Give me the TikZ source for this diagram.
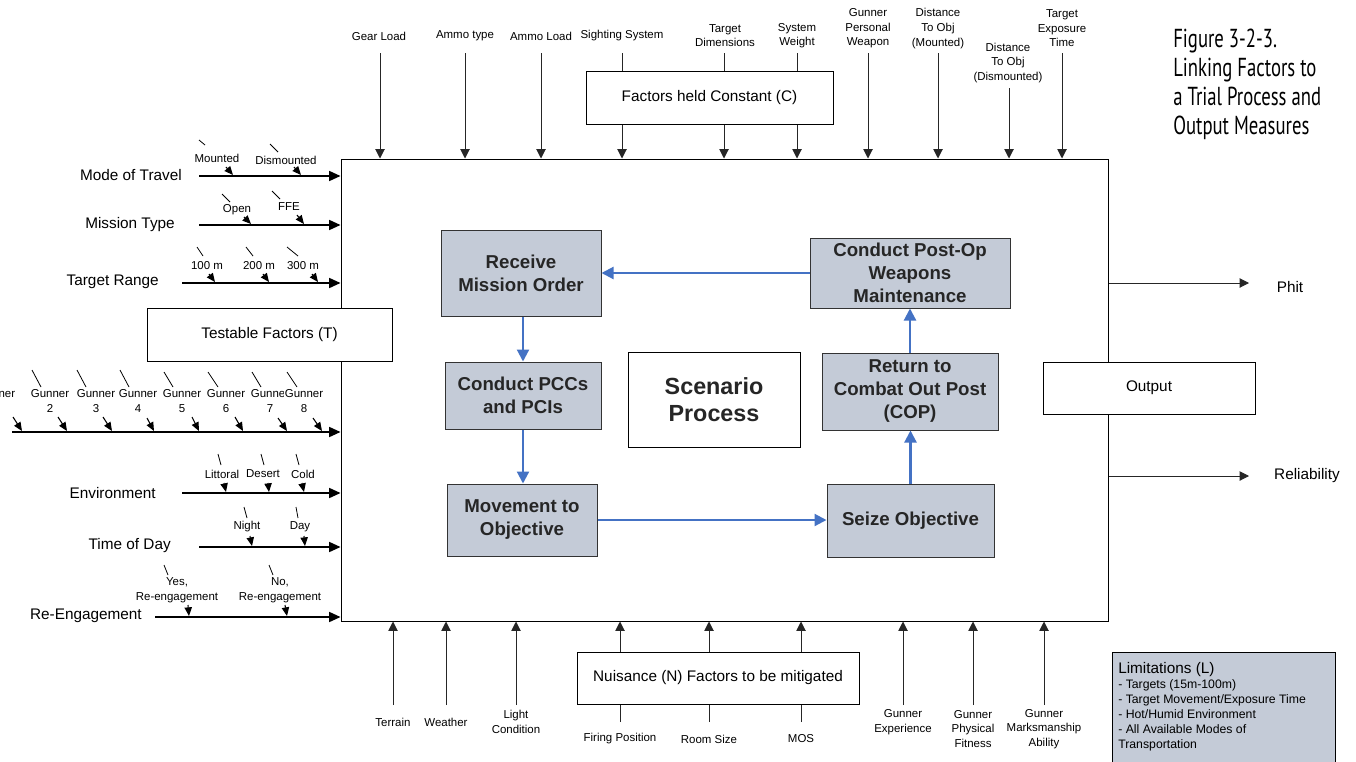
\documentclass[tikz,border=0pt]{standalone}
\usepackage{fontspec}
\setmainfont{Liberation Sans}
\newfontfamily\titlefont[FakeStretch=0.72]{PT Sans}
\usetikzlibrary{arrows.meta}
\definecolor{procfill}{RGB}{196,203,215}
\definecolor{flowblue}{RGB}{68,114,196}

% one level of a testable factor: label, leader tick and a short arrow onto the factor line
\newcommand\subfac[7]{%
  \node[sm] (#1) at (#2) {#3};
  \draw[tick] (#4) -- (#5);
  \coordinate (#1-a) at (#6);
  \coordinate (#1-b) at (#7);
  \draw[sarr] (#1-a) -- (#1-b);}

\begin{document}
\begin{tikzpicture}[x=0.75pt,y=-0.75pt,
  every node/.style={inner sep=0pt},
  box/.style 2 args={draw, line width=0.75pt, minimum width=#1*0.75pt, minimum height=#2*0.75pt, inner sep=0pt},
  lbl/.style={font=\fontsize{11.5}{13.5}\selectfont},
  sm/.style={font=\fontsize{8.6}{10.9}\selectfont, align=center, inner sep=0.6pt},
  proc/.style={fill=procfill, draw=black!80, text=black!85, font=\fontsize{14}{17.25}\selectfont\bfseries, align=center},
  factor/.style={line width=1.1pt, -{Triangle[length=8.5pt,width=7.5pt]}},
  feed/.style={line width=0.75pt, draw=black!85, -{Triangle[length=7pt,width=7pt]}},
  plain/.style={line width=0.75pt, draw=black!85},
  sarr/.style={line width=0.8pt, -{Triangle[length=6.5pt,width=5.5pt]}},
  tick/.style={line width=0.6pt},
  flow/.style={draw=flowblue, line width=1.6pt, -{Triangle[length=9pt,width=9pt]}},
]
\useasboundingbox (0,0) rectangle (1356,761);

% ---------- main process frame ----------
\node[box={767}{462}, fill=white] (main) at (724.5,390) {};

% ---------- testable factors (left) ----------
\node[lbl, anchor=east] (mode) at (182,175) {Mode of Travel};
\coordinate (mode-s) at (199,176);
\draw[factor] (mode-s) -- (mode-s -| main.west);
\subfac{mounted}{217,158}{Mounted}{199,140}{205,145}{226,167}{233,175}
\subfac{dismounted}{286,160}{Dismounted}{270,144}{278,152}{294,167}{301,175}

\node[lbl, anchor=east] (mission) at (175,225) {Mission Type};
\coordinate (mission-s) at (199,225);
\draw[factor] (mission-s) -- (mission-s -| main.west);
\subfac{open}{237,210}{Open}{222,194}{230,202}{244,217}{251,224}
\subfac{ffe}{289,207}{FFE}{272,191}{280,199}{297,215}{304,224}

\node[lbl, anchor=east] (range) at (159,282) {Target Range};
\coordinate (range-s) at (182,283);
\draw[factor] (range-s) -- (range-s -| main.west);
\subfac{r100}{207,266}{100 m}{197,247}{203,256}{209,274}{215,282}
\subfac{r200}{259,266}{200 m}{246,247}{253,256}{263,274}{269,282}
\subfac{r300}{303,266}{300 m}{287,247}{298,256}{312,274}{318,282}

\coordinate (gun-s) at (12,432);
\draw[factor] (gun-s) -- (gun-s -| main.west);
\tikzset{sm/.append style={fill=white}}
\subfac{g1}{-4,401}{Gunner\\1}{-22,371}{-13,387}{13,417}{22,431}
\subfac{g2}{50,401}{Gunner\\2}{32,370}{41,387}{58,417}{67,431}
\subfac{g3}{96,401}{Gunner\\3}{77,370}{86,387}{103,417}{112,431}
\subfac{g4}{138,401}{Gunner\\4}{120,370}{129,387}{147,418}{154,431}
\subfac{g5}{182,401}{Gunner\\5}{164,372}{173,387}{192,417}{199,431}
\subfac{g6}{226,401}{Gunner\\6}{208,372}{218,387}{235,417}{243,431}
\subfac{g7}{270,401}{Gunner\\7}{252,372}{261,387}{278,418}{287,431}
\subfac{g8}{304,401}{Gunner\\8}{287,372}{297,387}{313,418}{322,431}
\tikzset{sm/.append style={fill=none}}

\node[lbl, anchor=east] (env) at (156,493) {Environment};
\coordinate (env-s) at (182,493);
\draw[factor] (env-s) -- (env-s -| main.west);
\subfac{littoral}{222,474}{Littoral}{218,454}{221,465}{224,483}{226,492}
\subfac{desert}{263,474}{Desert}{261,454}{264,465}{268,483}{269,492}
\subfac{cold}{303,474}{Cold}{296,454}{299,465}{302,483}{304,492}

\node[lbl, anchor=east] (tod) at (171,546) {Time of Day};
\coordinate (tod-s) at (199,547);
\draw[factor] (tod-s) -- (tod-s -| main.west);
\subfac{night}{247,527}{Night}{244,507}{247,518}{250,536}{252,546}
\subfac{day}{300,527}{Day}{296,507}{298,518}{304,536}{305,546}

\node[lbl, anchor=east] (reeng) at (142,616) {Re-Engagement};
\coordinate (reeng-s) at (155,617);
\draw[factor] (reeng-s) -- (reeng-s -| main.west);
\subfac{yes}{177,590.5}{Yes,\\Re-engagement}{164,565}{168,575}{188,605}{189,616}
\subfac{no}{280,590.5}{No,\\Re-engagement}{269,565}{273,575}{285,605}{287,616}

\node[box={245}{53}, fill=white, lbl] (testable) at (269.5,334.5) {Testable Factors (T)};

% ---------- factors held constant (top) ----------
\node[box={247}{53}, fill=white, lbl] (constbox) at (709.5,97.5) {Factors held Constant (C)};

\node[sm] (gear) at (379,36) {Gear Load};
\node[sm] (atype) at (465,36) {Ammo type};
\node[sm] (aload) at (541,36) {Ammo Load};
\node[sm] (sight) at (622,36) {Sighting System};
\node[sm] (tdim) at (725,35.5) {Target\\Dimensions};
\node[sm] (sysw) at (797,35.5) {System\\Weight};
\node[sm] (gpw) at (868,28.5) {Gunner\\Personal\\Weapon};
\node[sm] (dmnt) at (938,28.5) {Distance\\To Obj\\(Mounted)};
\node[sm] (ddis) at (1008,63) {Distance\\To Obj\\(Dismounted)};
\node[sm] (texp) at (1062,28.5) {Target\\Exposure\\Time};

\foreach \n/\x in {gear/380, atype/465, aload/541, gpw/868, dmnt/938, texp/1062}{
  \coordinate (\n-s) at (\x,53);
  \draw[feed] (\n-s) -- (\n-s |- main.north);
}
\coordinate (ddis-s) at (1009,88);
\draw[feed] (ddis-s) -- (ddis-s |- main.north);
\foreach \n/\x in {sight/622, tdim/724, sysw/797}{
  \coordinate (\n-s) at (\x,53);
  \draw[plain] (\n-s) -- (\n-s |- constbox.north);
  \draw[feed] (\n-s |- constbox.south) -- (\n-s |- main.north);
}

% ---------- nuisance factors (bottom) ----------
\node[box={282}{52}, fill=white, lbl] (nuis) at (718,678) {Nuisance (N) Factors to be mitigated};

\node[sm] (terrain) at (393,722) {Terrain};
\node[sm] (weather) at (446,722) {Weather};
\node[sm] (light) at (516,722) {Light\\Condition};
\node[sm] (firing) at (620,739) {Firing Position};
\node[sm] (room) at (709,739) {Room Size};
\node[sm] (mos) at (801,739) {MOS};
\node[sm] (gexp) at (903,722) {Gunner\\Experience};
\node[sm] (gfit) at (973,729) {Gunner\\Physical\\Fitness};
\node[sm] (gmark) at (1044,729) {Gunner\\Marksmanship\\Ability};

\foreach \n/\x in {terrain/393, weather/446, light/516, gexp/903, gfit/973, gmark/1044}{
  \coordinate (\n-s) at (\x,705);
  \draw[feed] (\n-s) -- (\n-s |- main.south);
}
\foreach \n/\x in {firing/620, room/709, mos/801}{
  \coordinate (\n-s) at (\x,722);
  \draw[plain] (\n-s) -- (\n-s |- nuis.south);
  \draw[feed] (\n-s |- nuis.north) -- (\n-s |- main.south);
}

% ---------- outputs (right) ----------
\coordinate (phit-e) at (1249,283);
\draw[feed] (phit-e -| main.east) -- (phit-e);
\node[lbl] (phit) at (1290,287) {Phit};
\coordinate (rel-e) at (1249,476);
\draw[feed] (rel-e -| main.east) -- (rel-e);
\node[lbl] (rel) at (1307,476) {Reliability};
\node[box={212}{52}, fill=white, lbl] (output) at (1149,388) {Output};

% ---------- scenario process ----------
\node[proc, box={160}{86}] (receive) at (521,273) {Receive\\Mission Order};
\node[proc, box={156}{67}] (pcc) at (523,395.5) {Conduct PCCs\\and PCIs};
\node[proc, box={150}{72}] (move) at (522,520) {Movement to\\Objective};
\node[proc, box={167}{73}] (seize) at (910.5,520.5) {Seize Objective};
\node[proc, box={176}{77}] (ret) at (910,391.5) {Return to\\Combat Out Post\\(COP)};
\node[proc, box={200}{70}] (post) at (910,273) {Conduct Post-Op\\Weapons\\Maintenance};
\node[box={172}{95}, fill=white, align=center, font=\fontsize{17.5}{20.25}\selectfont\bfseries, text=black!85] (scen) at (714,399.5) {Scenario\\Process};

\draw[flow] (receive.south -| pcc.north) -- (pcc.north);
\draw[flow] (pcc.south) -- (pcc.south |- move.north);
\draw[flow] (move.east) -- (move.east -| seize.west);
\draw[flow] (seize.north) -- (seize.north |- ret.south);
\draw[flow] (ret.north) -- (ret.north |- post.south);
\draw[flow] (post.west) -- (post.west -| receive.east);

% ---------- limitations ----------
\node[box={223}{130}, fill=procfill, anchor=north west] (limits) at (1112,652) {};
\node[anchor=north west, align=left, font=\fontsize{9.2}{11.25}\selectfont] (limtxt) at (1118,662)
  {{\fontsize{11.5}{11.25}\selectfont Limitations (L)}\\- Targets (15m-100m)\\- Target Movement/Exposure Time\\- Hot/Humid Environment\\- All Available Modes of\\Transportation};

% ---------- caption ----------
\node[anchor=north west, align=left, font=\titlefont\fontsize{19.5}{21.6}\selectfont] (title) at (1173,29)
  {Figure 3-2-3.\\Linking Factors to\\a Trial Process and\\Output Measures};
\end{tikzpicture}
\end{document}
